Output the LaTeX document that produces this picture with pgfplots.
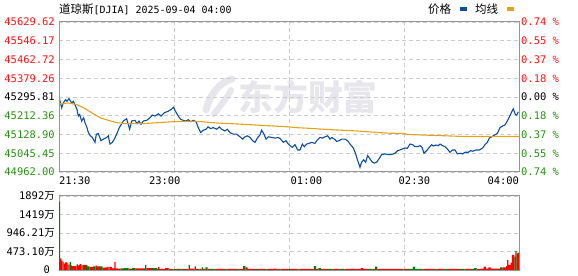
\documentclass[border=0pt]{standalone}
\usepackage{fontspec}
\setmainfont{DejaVu Sans Mono}
\newfontfamily\cjk{Noto Sans CJK SC}
\usepackage{pgfplots}
\pgfplotsset{compat=1.18}
\definecolor{pricec}{RGB}{12,78,160}
\definecolor{avgc}{RGB}{226,162,30}
\definecolor{upc}{RGB}{255,0,0}
\definecolor{dnc}{RGB}{0,128,0}
\definecolor{lblr}{RGB}{250,20,20}
\definecolor{lblg}{RGB}{40,145,20}
\definecolor{gridc}{RGB}{205,205,205}
\definecolor{framec}{RGB}{150,150,150}
\definecolor{wmc}{RGB}{230,230,236}
\pgfplotsset{
  base/.style={
    scale only axis, width=460bp, xmin=0, xmax=390,
    scaled y ticks=false, scaled x ticks=false,
    axis line style={draw=framec, line width=1bp},
    major tick length=0pt,
    grid style={draw=gridc, dash pattern=on 4bp off 3bp, line width=0.9bp},
    tick label style={font=\fontsize{10.5}{12}\selectfont},
    yticklabel style={inner sep=0pt, xshift=-4bp},
  }
}
\begin{document}
\begin{tikzpicture}
\useasboundingbox (0,0) rectangle (578bp,276bp);
% watermark
\draw[wmc, line width=7bp, line cap=round] (206bp,166bp) .. controls (210bp,182bp) and (220bp,194bp) .. (232bp,197bp);
\draw[wmc, line width=6bp, line cap=round] (214bp,162bp) .. controls (222bp,172bp) and (228bp,180bp) .. (231bp,186bp);
\node[text=wmc, font=\cjk\fontsize{35}{35}\selectfont\bfseries, inner sep=0pt] at (308bp,179bp) {东方财富};
% ---------------- main price axis ----------------
\begin{axis}[base, at={(59bp,104bp)}, anchor=south west, height=150bp,
  ymin=44962.00, ymax=45629.62,
  ytick={44962.00,45045.45,45128.90,45212.36,45295.81,45379.26,45462.72,45546.17,45629.62},
  yticklabels={\textcolor{lblg}{44962.00},\textcolor{lblg}{45045.45},\textcolor{lblg}{45128.90},\textcolor{lblg}{45212.36},\textcolor{black}{45295.81},\textcolor{lblr}{45379.26},\textcolor{lblr}{45462.72},\textcolor{lblr}{45546.17},\textcolor{lblr}{45629.62}},
  xtick={0,97.5,195,292.5,390},
  xticklabels={\makebox[0pt][l]{21:30},\makebox[0pt][l]{\hspace*{-25bp}23:00},\makebox[0pt][l]{\hspace*{1.7bp}01:00},\makebox[0pt][l]{\hspace*{-5.3bp}02:30},\makebox[0pt][r]{04:00}},
  xticklabel style={inner sep=0pt, yshift=-5bp, anchor=north},
  xmajorgrids, ymajorgrids,
  title={{\cjk\fontsize{11.5}{12}\selectfont 道琼斯}[DJIA] 2025-09-04 04:00},
  every axis title shift=0pt,
  title style={at={(0,1.0867)}, anchor=west, inner sep=0pt, font=\fontsize{10}{12}\selectfont},
  legend columns=2, legend plot pos=right,
  legend style={at={(0.989,1.0867)}, anchor=east, draw=none, fill=none, inner sep=0pt,
    column sep=8.5bp, nodes={inner sep=0pt}, font=\cjk\fontsize{11.5}{12}\selectfont},
]
\addplot[pricec, line width=1.1bp, legend image code/.code={\fill[pricec] (0bp,-1bp) rectangle (6bp,1bp);}] table[x=m,y=v] {
m v
0 45313.4
0.6 45284.1
2.26 45247.5
3.67 45269.5
5.65 45284.1
6.78 45276.8
8.48 45288.5
10.74 45269.5
12.15 45276.8
14.13 45254.8
15.26 45240.2
16.39 45210.9
17.52 45218.2
19.22 45188.9
20.91 45203.6
22.04 45181.6
23.74 45159.6
24.87 45137.7
26.56 45123.0
28.26 45115.7
30.52 45093.8
31.65 45130.4
33.35 45133.3
35.61 45101.1
37.59 45108.4
40.41 45115.7
41.83 45123.0
43.24 45086.4
45.22 45093.8
46.91 45108.4
48.89 45130.4
51.15 45159.6
54.54 45188.9
57.37 45199.2
59.91 45152.3
61.61 45188.9
64.43 45191.9
66.13 45177.2
67.82 45188.9
69.52 45174.3
71.50 45188.9
74.32 45191.9
77.15 45203.6
79.13 45215.3
81.39 45210.9
84.21 45221.1
86.48 45210.9
89.30 45225.5
92.69 45232.8
94.95 45240.2
97.21 45250.4
98.34 45235.8
101.17 45210.9
103.15 45196.2
105.41 45191.9
107.67 45188.9
109.65 45194.8
111.63 45186.0
113.89 45191.9
116.15 45186.0
118.12 45159.6
120.11 45137.7
122.37 45147.9
124.63 45152.3
126.32 45162.6
128.58 45155.3
130.84 45159.6
133.67 45152.3
135.93 45162.6
137.91 45152.3
140.73 45145.0
142.71 45152.3
144.97 45137.7
147.80 45130.4
150.63 45130.4
153.45 45118.7
155.71 45108.4
157.69 45118.7
159.67 45123.0
161.93 45115.7
164.19 45101.1
166.17 45093.8
168.15 45112.8
170.41 45127.4
171.82 45147.9
173.80 45130.4
175.49 45108.4
177.47 45118.7
180.30 45115.7
183.12 45112.8
185.95 45115.7
187.93 45108.4
190.19 45093.8
192.45 45101.1
194.43 45086.4
195.84 45079.1
197.82 45071.8
200.08 45083.5
202.34 45060.1
204.32 45060.1
206.30 45086.4
207.99 45074.7
209.97 45086.4
211.95 45089.4
214.21 45093.8
217.04 45089.4
218.45 45101.1
221.28 45115.7
223.25 45112.8
225.51 45118.7
227.78 45123.0
229.75 45108.4
231.17 45115.7
233.43 45108.4
235.41 45098.2
237.38 45101.1
239.65 45108.4
242.47 45108.4
244.73 45101.1
246.71 45086.4
249.54 45068.9
251.52 45042.5
253.21 45013.2
255.19 44983.0
256.60 45005.9
258.30 45016.2
259.99 45005.9
261.69 45035.2
263.67 45020.6
265.64 45005.9
267.34 45001.5
269.32 45005.9
271.30 45020.6
273.56 45039.6
276.38 45042.5
279.21 45039.6
282.04 45039.6
284.86 45045.5
287.12 45057.2
289.10 45060.1
291.08 45064.5
293.34 45068.9
295.32 45067.4
297.58 45086.4
299.84 45083.5
301.82 45074.7
303.80 45074.7
306.06 45079.1
307.75 45071.8
309.45 45045.5
311.71 45057.2
313.97 45071.8
315.95 45083.5
317.36 45077.7
319.62 45082.1
321.60 45079.1
323.01 45086.4
325.28 45079.1
327.25 45074.7
329.23 45064.5
331.49 45049.8
333.75 45060.1
335.73 45060.1
337.71 45042.5
339.97 45045.5
342.23 45042.5
344.21 45049.8
347.03 45049.8
349.01 45057.2
350.71 45054.2
353.53 45060.1
356.36 45060.1
359.19 45068.9
361.16 45083.5
363.14 45093.8
364.84 45112.8
366.82 45118.7
369.64 45127.4
371.62 45133.3
373.88 45159.6
376.14 45167.0
378.12 45171.4
380.09 45188.9
381.79 45206.5
383.49 45225.5
385.18 45243.1
386.88 45218.2
388.01 45215.3
389.42 45229.9
};
\addlegendentry{价格}
\addplot[avgc, line width=1.1bp, legend image code/.code={\fill[avgc] (0bp,-1bp) rectangle (6bp,1bp);}] table[x=m,y=v] {
m v
0.5 45267.0
1.70 45265.1
7.91 45269.5
14.98 45262.1
22.04 45244.6
27.69 45225.5
34.76 45203.6
41.83 45191.9
48.89 45181.6
55.95 45177.2
70.09 45177.2
84.21 45181.6
97.21 45186.0
116.71 45187.5
133.67 45180.1
150.63 45175.8
176.06 45168.4
195.84 45162.6
200.08 45159.6
211.38 45156.7
228.34 45150.9
250.95 45145.0
259.43 45142.1
270.73 45137.7
279.21 45134.8
293.34 45133.3
294.75 45128.9
320.19 45124.5
342.79 45120.1
390 45120.1
};
\addlegendentry{均线}
\end{axis}
% ---------------- right percentage labels ----------------
\begin{axis}[base, at={(59bp,104bp)}, anchor=south west, height=150bp,
  ymin=44962.00, ymax=45629.62,
  xtick=\empty, yticklabel pos=right,
  ytick={44962.00,45045.45,45128.90,45212.36,45295.81,45379.26,45462.72,45546.17,45629.62},
  yticklabels={\textcolor{lblg}{0.74 \%},\textcolor{lblg}{0.55 \%},\textcolor{lblg}{0.37 \%},\textcolor{lblg}{0.18 \%},\textcolor{black}{0.00 \%},\textcolor{lblr}{0.18 \%},\textcolor{lblr}{0.37 \%},\textcolor{lblr}{0.55 \%},\textcolor{lblr}{0.74 \%}},
  yticklabel style={inner sep=0pt, xshift=6bp, anchor=west},
]
\end{axis}
% ---------------- volume axis ----------------
\begin{axis}[base, at={(59bp,6bp)}, anchor=south west, height=74bp,
  ymin=0, ymax=1892,
  ytick={0,473.10,946.21,1419,1892},
  yticklabels={{0\hspace*{5bp}},{473.10{\cjk 万}},{946.21{\cjk 万}},{1419{\cjk 万}},{\raisebox{-3bp}{1892{\cjk 万}}}},
  xtick={97.5,195,292.5}, xticklabels={},
  xmajorgrids, ymajorgrids,
]
% per-minute bars, first session part
\addplot[ybar, bar width=1, bar shift=0pt, draw=none, fill=dnc] coordinates {
(0.5,1750) (3.5,213) (7.5,170) (9.5,205) (15.5,145) (17.5,136) (19.5,119) (23.5,128)
(24.5,94) (25.5,94) (27.5,77) (29.5,94) (30.5,94) (34.5,94) (35.5,94) (36.5,94)
(42.5,77) (52.5,43) (53.5,43) (54.5,43) (55.5,51) (56.5,51) (57.5,51) (58.5,51)
(62.5,51) (63.5,51) (64.5,51) (72.5,43) (73.5,128) (78.5,51) (79.5,51) (80.5,51)
(81.5,51) (82.5,51) (83.5,34) (93.5,26) (94.5,26) (95.5,26) (97.5,26) (98.5,26)
(101.5,26) (102.5,26) (103.5,26) (106.5,26) (110.5,128) (115.5,94) (117.5,26) (118.5,26)
(121.5,68) (122.5,26)
};
\addplot[ybar, bar width=1, bar shift=0pt, draw=none, fill=upc] coordinates {
(1.5,298) (2.5,239) (4.5,162) (5.5,196) (6.5,196) (8.5,136) (10.5,120) (11.5,100)
(12.5,102) (13.5,102) (14.5,102) (16.5,119) (18.5,153) (20.5,128) (21.5,128) (22.5,128)
(26.5,77) (28.5,77) (31.5,119) (32.5,94) (33.5,94) (37.5,60) (38.5,60) (39.5,68)
(40.5,68) (41.5,77) (43.5,77) (44.5,77) (45.5,43) (46.5,43) (47.5,205) (48.5,43)
(49.5,43) (50.5,34) (51.5,34) (59.5,34) (60.5,34) (61.5,34) (65.5,43) (66.5,43)
(67.5,43) (68.5,43) (69.5,43) (70.5,43) (71.5,43) (74.5,51) (75.5,51) (76.5,51)
(77.5,51) (84.5,77) (85.5,26) (86.5,26) (87.5,26) (88.5,26) (89.5,26) (90.5,51)
(91.5,51) (92.5,51) (96.5,26) (99.5,26) (100.5,26) (104.5,26) (105.5,26) (107.5,26)
(108.5,26) (109.5,26) (111.5,34) (112.5,34) (113.5,34) (114.5,34) (116.5,26) (119.5,26)
(120.5,26) (123.5,26)
};
% two-minute bars, middle of the session
\addplot[ybar, bar width=2, bar shift=0pt, draw=none, fill=dnc] coordinates {
(125,68) (129,26) (131,26) (141,26) (151,26) (157,102) (167,26) (175,26) (187,26)
(195,26) (203,26) (217,102) (221,51) (229,26) (231,26) (239,26) (241,26) (263,26)
(265,26) (269,85) (291,26) (297,26) (299,26) (301,85) (303,26) (305,26) (307,26)
(319,26) (327,26) (329,26) (341,26) (343,26) (351,26) (353,51) (375,68)
};
\addplot[ybar, bar width=2, bar shift=0pt, draw=none, fill=upc] coordinates {
(127,26) (133,26) (135,26) (137,26) (139,26) (143,26) (145,26) (147,26) (149,26)
(153,26) (155,26) (159,68) (161,26) (163,26) (165,26) (169,26) (171,26) (173,26)
(177,26) (179,26) (181,26) (183,34) (185,26) (189,26) (191,26) (193,26) (197,26)
(199,26) (201,26) (205,26) (207,26) (209,26) (211,26) (213,26) (215,26) (219,26)
(223,26) (225,26) (227,26) (233,26) (235,26) (237,26) (243,26) (245,26) (247,26)
(249,26) (251,26) (253,26) (255,26) (257,51) (259,26) (261,26) (267,26) (271,26)
(273,26) (275,26) (277,26) (279,26) (281,26) (283,26) (285,26) (287,26) (289,26)
(293,26) (295,26) (309,26) (311,26) (313,26) (315,26) (317,26) (321,26) (323,26)
(325,26) (331,26) (333,26) (335,26) (337,26) (339,26) (345,26) (347,26) (349,26)
(355,26) (357,26) (359,34) (361,85) (363,34) (365,68) (367,34) (369,34) (371,34)
(373,34) (377,68)
};
% per-minute bars, close
\addplot[ybar, bar width=1, bar shift=0pt, draw=none, fill=dnc] coordinates {
(386.5,341) (387.5,486)
};
\addplot[ybar, bar width=1, bar shift=0pt, draw=none, fill=upc] coordinates {
(378.5,68) (379.5,102) (380.5,256) (381.5,128) (382.5,128) (383.5,188) (384.5,384)
(385.5,384) (388.5,426) (389.5,443)
};
\end{axis}
\end{tikzpicture}
\end{document}
